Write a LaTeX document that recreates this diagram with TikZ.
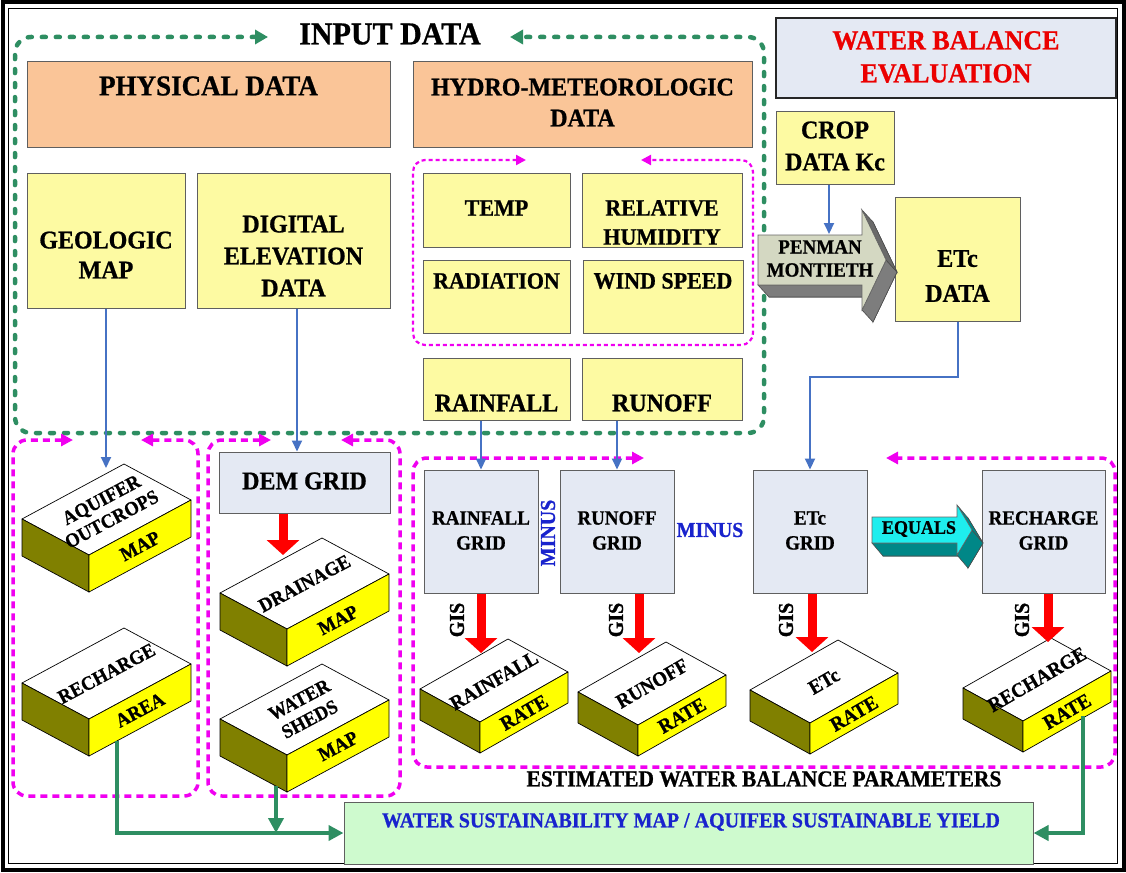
\documentclass[tikz,border=0pt]{standalone}
\usepackage{fontspec}
\setmainfont{Liberation Serif}[FakeStretch=0.94, BoldFont={Liberation Serif Bold}, BoldFeatures={FakeBold=0.8}]
\usetikzlibrary{arrows.meta,calc}
\definecolor{gdash}{RGB}{46,142,98}
\definecolor{mag}{RGB}{240,0,240}
\definecolor{yel}{RGB}{253,250,162}
\definecolor{org}{RGB}{250,197,152}
\definecolor{gridc}{RGB}{228,233,243}
\definecolor{bdr}{RGB}{95,95,95}
\definecolor{blu}{RGB}{70,114,196}
\definecolor{oliv}{RGB}{128,128,0}
\definecolor{yel2}{RGB}{255,255,0}
\definecolor{tblue}{RGB}{25,35,205}
\definecolor{tred}{RGB}{235,0,0}
\definecolor{sustc}{RGB}{206,250,206}
\definecolor{pmface}{RGB}{212,216,194}
\definecolor{pmdark}{RGB}{125,125,125}
\definecolor{eqface}{RGB}{30,238,238}
\definecolor{eqdark}{RGB}{0,135,135}
\newcommand\fz[2]{\pgfmathsetmacro\fzA{#1*1.064}\fontsize{\fzA pt}{#2pt}\selectfont\bfseries}
\newcommand\bx[6]{\node[#2, minimum width={(#5-#3)*1pt}, minimum height={(#6-#4)*1pt}] (#1) at ({(#3+#5)/2},{(#4+#6)/2}) {};}
\newcommand\isoblock[8]{%
  \coordinate (#1-L) at #2;
  \coordinate (#1-F) at ([shift={#3}]#1-L);
  \coordinate (#1-B) at ([shift={#4}]#1-L);
  \coordinate (#1-R) at ([shift={#4}]#1-F);
  \coordinate (#1-Ld) at ([shift={(0,#5)}]#1-L);
  \coordinate (#1-Fd) at ([shift={(0,#5)}]#1-F);
  \coordinate (#1-Rd) at ([shift={(0,#5)}]#1-R);
  \filldraw[blk, fill=white] (#1-L) -- (#1-B) -- (#1-R) -- (#1-F) -- cycle;
  \filldraw[blk, fill=oliv] (#1-L) -- (#1-F) -- (#1-Fd) -- (#1-Ld) -- cycle;
  \filldraw[blk, fill=yel2] (#1-F) -- (#1-R) -- (#1-Rd) -- (#1-Fd) -- cycle;
  \node[#6] (#1-t) at ($(#1-L)!0.5!(#1-R)$) {#7};
  \node[#6] (#1-s) at ($(#1-F)!0.5!(#1-Rd)$) {#8};
}
\tikzset{
  box/.style={draw=bdr, line width=1pt, inner sep=0pt},
  ybox/.style={box, fill=yel},
  obox/.style={box, fill=org},
  gbox/.style={box, fill=gridc},
  sbox/.style={box, fill=sustc},
  wbox/.style={draw=black!85, line width=2.6pt, fill=gridc, inner sep=0pt},
  t/.style={inner sep=0pt, align=center},
  blk/.style={draw=black, line width=0.7pt, line join=round},
  bl/.style={t, font=\fz{18.5}{22}, rotate=28},
  br/.style={t, font=\fz{19}{22}, rotate=30},
  gframe/.style={draw=gdash, line width=4.5pt, line cap=round, dash pattern=on 4pt off 10pt, rounded corners=16pt, {Triangle[length=13pt,width=14pt]}-{Triangle[length=13pt,width=14pt]}},
  mframe/.style={draw=mag, line width=3.5pt, dash pattern=on 7pt off 5pt, rounded corners=14pt, {Triangle[length=12pt,width=12pt]}-{Triangle[length=12pt,width=12pt]}},
  mdots/.style={draw=mag, line width=2.2pt, dash pattern=on 4pt off 3pt, rounded corners=12pt, {Triangle[length=10pt,width=10pt]}-{Triangle[length=10pt,width=10pt]}},
  barrow/.style={draw=blu, line width=2pt, -{Triangle[length=11pt,width=10pt]}},
  rarrow/.style={draw=red, line width=9pt, -{Triangle[length=15pt,width=32pt]}},
  garrow/.style={draw=gdash, line width=4pt, -{Triangle[length=15pt,width=15pt]}},
}
\begin{document}
\begin{tikzpicture}[x=1pt,y=-1pt]
\useasboundingbox (0,0) rectangle (1126,872);
\fill[white] (0,0) rectangle (1126,872);
% frame
\draw[line width=4pt] (2.5,2.5) rectangle (1123.5,869.5);
\draw[line width=1.2pt] (8.5,8.5) rectangle (1117.5,863.5);

% boxes
\bx{phys}{obox}{27}{62}{390}{147}
\bx{hydro}{obox}{413}{62}{752}{147}
\bx{wbe}{wbox}{776}{18}{1116}{98}
\bx{crop}{ybox}{776}{112}{894}{184}
\bx{geo}{ybox}{27}{173}{185}{308}
\bx{dig}{ybox}{197}{173}{390}{308}
\bx{temp}{ybox}{423}{173}{570}{247}
\bx{relhum}{ybox}{582}{173}{742}{247}
\bx{rad}{ybox}{423}{260}{570}{333}
\bx{wind}{ybox}{583}{260}{743}{333}
\bx{rainfall}{ybox}{423}{358}{570}{420}
\bx{runoff}{ybox}{582}{358}{742}{420}
\bx{etcdata}{ybox}{895}{197}{1020}{321}
\bx{demgrid}{gbox}{219}{452}{390}{513}
\bx{rgrid}{gbox}{424}{470}{538}{593}
\bx{rogrid}{gbox}{560}{470}{674}{593}
\bx{egrid}{gbox}{753}{470}{867}{593}
\bx{regrid}{gbox}{982}{470}{1105}{593}
\bx{sust}{sbox}{344}{802}{1033}{864}

% labels
\node[t, font=\fz{30}{36}] (inp) at (390,34) {INPUT DATA};
\node[t, font=\fz{27}{32}] (physl) at (208.5,86) {PHYSICAL DATA};
\node[t, font=\fz{24}{31}] (hydl) at (582.5,102.5) {HYDRO-METEOROLOGIC\\DATA};
\node[t, font=\fz{26}{33}, text=tred] (wbel) at (946,57) {WATER BALANCE\\EVALUATION};
\node[t, font=\fz{24}{32}] (cropl) at (835,146) {CROP\\DATA Kc};
\node[t, font=\fz{24}{30}] (geol) at (106,255) {GEOLOGIC\\MAP};
\node[t, font=\fz{24}{32}] (digl) at (293.5,256) {DIGITAL\\ELEVATION\\DATA};
\node[t, font=\fz{22}{29}] (templ) at (496.5,208) {TEMP};
\node[t, font=\fz{22}{29}] (rhl) at (662,222.5) {RELATIVE\\HUMIDITY};
\node[t, font=\fz{22}{29}] (radl) at (496.5,281) {RADIATION};
\node[t, font=\fz{22}{29}] (windl) at (663,281) {WIND SPEED};
\node[t, font=\fz{24}{29}] (rainl) at (496.5,403) {RAINFALL};
\node[t, font=\fz{24}{29}] (runl) at (662,403) {RUNOFF};
\node[t, font=\fz{24}{35}] (etcl) at (957.5,276) {ETc\\DATA};
\node[t, font=\fz{24}{29}] (deml) at (304.5,481) {DEM GRID};
\node[t, font=\fz{19}{25}] (rgl) at (481,530.5) {RAINFALL\\GRID};
\node[t, font=\fz{19}{25}] (rogl) at (617,530.5) {RUNOFF\\GRID};
\node[t, font=\fz{19}{25}] (egl) at (810,530.5) {ETc\\GRID};
\node[t, font=\fz{19}{25}] (regl) at (1043.5,530.5) {RECHARGE\\GRID};
\node[t, font=\fz{20}{24}, text=tblue, rotate=90] (minus1) at (548,533) {MINUS};
\node[t, font=\fz{20}{24}, text=tblue] (minus2) at (710,530) {MINUS};
\node[t, font=\fz{20}{22}, rotate=90] (gis1) at (457,620) {GIS};
\node[t, font=\fz{20}{22}, rotate=90] (gis2) at (616,620) {GIS};
\node[t, font=\fz{20}{22}, rotate=90] (gis3) at (786,620) {GIS};
\node[t, font=\fz{20}{22}, rotate=90] (gis4) at (1022,620) {GIS};
\node[t, font=\fz{21.5}{26}] (estl) at (764,779) {ESTIMATED WATER BALANCE PARAMETERS};
\node[t, font=\fz{20}{24}, text=tblue] (sustl) at (691,822) {WATER SUSTAINABILITY MAP / AQUIFER SUSTAINABLE YIELD};

% dashed group outlines
\draw[gframe] (268,37) -- (15,37) -- (15,433) -- (764,433) -- (764,37) -- (510,37);
\draw[mdots] (526,160) -- (413,160) -- (413,345) -- (753,345) -- (753,160) -- (641,160);
\draw[mframe] (73,440) -- (13,440) -- (13,796) -- (198,796) -- (198,440) -- (141,440);
\draw[mframe] (271,440) -- (208,440) -- (208,796) -- (400,796) -- (400,440) -- (341,440);
\draw[mframe] (644,458) -- (413,458) -- (413,767) -- (1115,767) -- (1115,458) -- (886,458);

% Penman-Montieth 3D arrow
\filldraw[draw=black!70, line width=0.6pt, fill=pmdark]
  (769,247) -- (873,247) -- (873,222) -- (897,272) -- (873,322) -- (873,297) -- (769,297) -- cycle;
\filldraw[draw=black!70, line width=0.6pt, fill=pmdark] (758,285) -- (769,297) -- (873,297) -- (862,285) -- cycle;
\filldraw[draw=black!70, line width=0.6pt, fill=pmdark] (862,310) -- (873,322) -- (897,272) -- (886,260) -- cycle;
\filldraw[draw=black!70, line width=0.6pt, fill=pmdark!85!black] (862,210) -- (873,222) -- (897,272) -- (886,260) -- cycle;
\filldraw[draw=black!60, line width=0.6pt, fill=pmface]
  (758,235) -- (862,235) -- (862,210) -- (886,260) -- (862,310) -- (862,285) -- (758,285) -- cycle;
\node[t, font=\fz{19}{23}] (pml) at (820,258.5) {PENMAN\\MONTIETH};
\coordinate (pmtop) at (829,234);

% EQUALS 3D arrow
\filldraw[draw=black!70, line width=0.6pt, fill=eqdark]
  (883,530) -- (968,530) -- (968,518) -- (983,543) -- (968,568) -- (968,556) -- (883,556) -- cycle;
\filldraw[draw=black!70, line width=0.6pt, fill=eqdark] (872,543) -- (883,556) -- (968,556) -- (957,543) -- cycle;
\filldraw[draw=black!70, line width=0.6pt, fill=eqdark] (957,555) -- (968,568) -- (983,543) -- (972,530) -- cycle;
\filldraw[draw=black!70, line width=0.6pt, fill=eqdark] (957,505) -- (968,518) -- (983,543) -- (972,530) -- cycle;
\filldraw[draw=black!60, line width=0.6pt, fill=eqface]
  (872,517) -- (957,517) -- (957,505) -- (972,530) -- (957,555) -- (957,543) -- (872,543) -- cycle;
\node[t, font=\fz{18}{20}] (eql) at (919,529) {EQUALS};

% 3D blocks
\isoblock{aq}{(22,519)}{(67,36)}{(102,-55)}{37}{bl}{AQUIFER\\OUTCROPS}{MAP}
\isoblock{ra}{(22,683)}{(67,36)}{(102,-55)}{37}{bl}{RECHARGE}{AREA}
\isoblock{dr}{(220,593)}{(67,36)}{(102,-55)}{37}{bl}{DRAINAGE}{MAP}
\isoblock{ws}{(220,719)}{(67,36)}{(102,-55)}{37}{bl}{WATER\\SHEDS}{MAP}
\isoblock{rr}{(420,689)}{(60,33)}{(88,-50)}{31}{br}{RAINFALL}{RATE}
\isoblock{ror}{(578,692)}{(60,33)}{(88,-50)}{31}{br}{RUNOFF}{RATE}
\isoblock{er}{(750,690)}{(60,33)}{(88,-50)}{31}{br}{ETc}{RATE}
\isoblock{rcr}{(963,688)}{(60,33)}{(88,-50)}{31}{br}{RECHARGE}{RATE}

% connector end points on blocks
\coordinate (aq-in) at (106,468);
\coordinate (dr-in) at (283,555);
\coordinate (rr-in) at (481,653);
\coordinate (ror-in) at (639,653);
\coordinate (er-in) at (812,652);
\coordinate (rcr-in) at (1048,642);
\coordinate (ra-out) at (117,741);
\coordinate (ws-out) at (276,786);
\coordinate (rcr-out) at (1083,716);
\coordinate (etcbend) at (0,377);

% blue connectors
\draw[barrow] (crop.south -| pmtop) -- (pmtop);
\draw[barrow] (geo.south) -- (aq-in);
\draw[barrow] ([xshift=3.5pt]dig.south) -- ([xshift=-7.5pt]demgrid.north);
\draw[barrow] (rgrid.north |- rainfall.south) -- (rgrid.north);
\draw[barrow] (rogrid.north |- runoff.south) -- (rogrid.north);
\draw[barrow] (etcdata.south) -- (etcdata.south |- etcbend) -| (egrid.north);

% red GIS arrows
\draw[rarrow] (demgrid.south -| dr-in) -- (dr-in);
\draw[rarrow] (rgrid.south -| rr-in) -- (rr-in);
\draw[rarrow] (rogrid.south -| ror-in) -- (ror-in);
\draw[rarrow] (egrid.south -| er-in) -- (er-in);
\draw[rarrow] (regrid.south -| rcr-in) -- (rcr-in);

% green output connectors
\draw[garrow] (ra-out) |- (sust.west);
\draw[garrow] (ws-out) -- (ws-out |- sust.west);
\draw[garrow] (rcr-out) |- (sust.east);
\end{tikzpicture}
\end{document}
